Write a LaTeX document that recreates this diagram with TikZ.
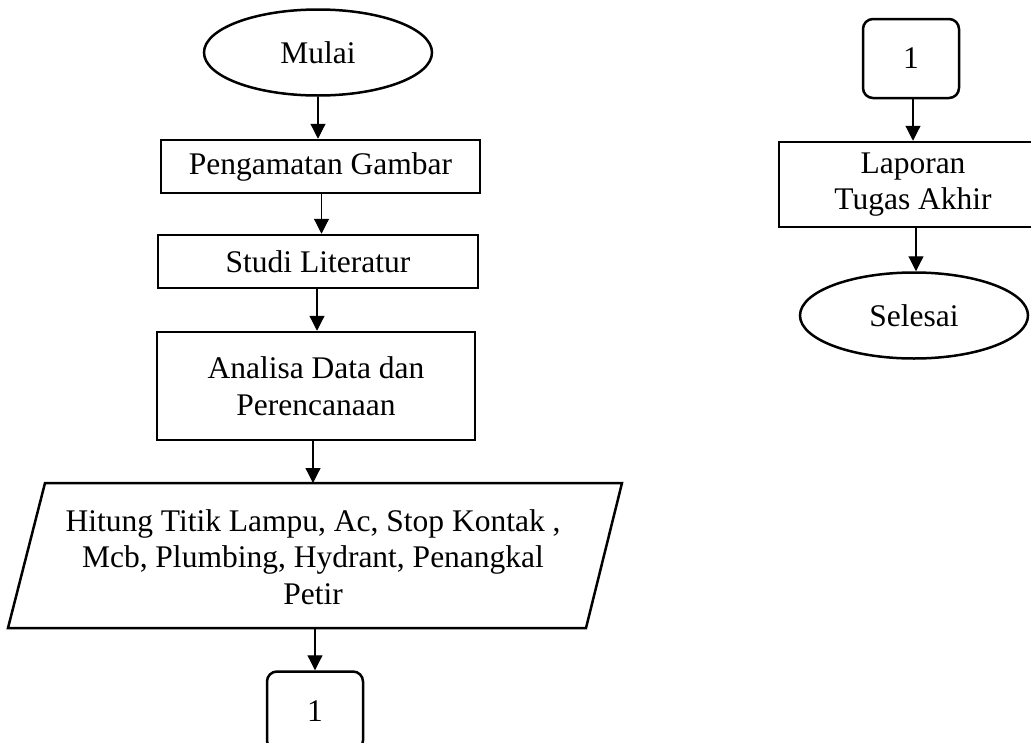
\documentclass[tikz,border=0pt]{standalone}
\usepackage{fontspec}
\setmainfont{Liberation Serif}
\usetikzlibrary{shapes.geometric,arrows.meta}
\begin{document}
\begin{tikzpicture}[x=1pt,y=-1pt,
  every node/.style={font=\fontsize{31.5}{36.5}\selectfont, inner sep=0pt},
  boxnode/.style={draw, line width=2.5pt, rectangle, align=center},
  oval/.style={draw, line width=2.5pt, ellipse, minimum width=228pt, minimum height=86pt},
  conn/.style={draw, line width=2.5pt, rounded corners=10pt, minimum width=96pt, minimum height=79pt},
  arr/.style={line width=1.2pt, -{Triangle[length=15pt,width=15pt]}}]
\clip (0,0) rectangle (1031,742);
% left column
\node[oval] (mulai) at (318,52.5) {Mulai};
\node[boxnode, minimum width=319pt, minimum height=53pt] (amat) at (320.5,166.5) {Pengamatan Gambar};
\node[boxnode, minimum width=320pt, minimum height=53pt] (studi) at (318,261.5) {Studi Literatur};
\node[boxnode, minimum width=318pt, minimum height=108pt] (ana) at (316,386) {Analisa Data dan\\Perencanaan};
\node[align=center, minimum height=145pt] (hit) at (313,557) {Hitung Titik Lampu, Ac, Stop Kontak ,\\Mcb, Plumbing, Hydrant, Penangkal\\Petir};
\draw[line width=2.5pt] (45,483) -- (622,483) -- (586,628) -- (8,628) -- cycle;
\node[conn] (c1) at (315,711) {1};
% right column
\node[conn] (r1) at (911,58.5) {1};
\node[boxnode, minimum width=268pt, minimum height=85pt] (lap) at (913,184.5) {Laporan\\Tugas Akhir};
\node[oval] (sel) at (914,315.5) {Selesai};
% connectors
\draw[arr] (mulai.south) -- (mulai.south |- amat.north);
\draw[arr] ([xshift=1pt]amat.south) -- ([xshift=1pt]amat.south |- studi.north);
\draw[arr] ([xshift=-1pt]studi.south) -- ([xshift=-1pt]studi.south |- ana.north);
\draw[arr] ([xshift=-3pt]ana.south) -- ([xshift=-3pt]ana.south |- 0,483);
\draw[arr] (315,628) -- (c1.north);
\draw[arr] ([xshift=2pt]r1.south) -- ([xshift=2pt]r1.south |- lap.north);
\draw[arr] ([xshift=3pt]lap.south) -- ([xshift=3pt]lap.south |- sel.north);
\end{tikzpicture}
\end{document}
